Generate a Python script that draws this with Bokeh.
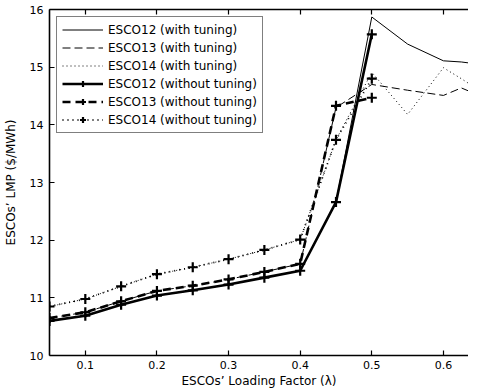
from bokeh.plotting import figure
from bokeh.models import Range1d, FixedTicker, LinearAxis, Legend, LegendItem, CustomJSTickFormatter
from bokeh.embed import file_html
from bokeh.resources import INLINE

# ---- data ----
x_wo = [0.05, 0.10, 0.15, 0.20, 0.25, 0.30, 0.35, 0.40, 0.45, 0.50]
esco12_wo = [10.60, 10.69, 10.88, 11.04, 11.13, 11.23, 11.35, 11.47, 12.66, 15.57]
esco13_wo = [10.65, 10.75, 10.94, 11.12, 11.21, 11.32, 11.45, 11.59, 14.33, 14.47]
esco14_wo = [10.85, 10.98, 11.20, 11.41, 11.53, 11.67, 11.83, 12.01, 13.74, 14.80]

x_w = [0.05, 0.10, 0.15, 0.20, 0.25, 0.30, 0.35, 0.40, 0.45, 0.50, 0.55, 0.60, 0.625, 0.65]
esco12_w = [10.60, 10.69, 10.88, 11.04, 11.13, 11.23, 11.35, 11.47, 12.66, 15.87, 15.40, 15.11, 15.09, 15.05]
esco13_w = [10.65, 10.75, 10.94, 11.12, 11.21, 11.32, 11.45, 11.59, 14.30, 14.70, 14.60, 14.51, 14.64, 14.51]
esco14_w = [10.85, 10.98, 11.20, 11.41, 11.53, 11.67, 11.83, 12.01, 13.74, 14.91, 14.18, 14.99, 14.80, 14.60]

x_ticks = [0.1, 0.2, 0.3, 0.4, 0.5, 0.6]
y_ticks = [10, 11, 12, 13, 14, 15, 16]

FONT = "DejaVu Sans"
FS = "11px"
FS_LAB = "12px"

p = figure(width=468, height=390, output_backend="svg", toolbar_location=None,
           x_range=Range1d(0.05, 0.635), y_range=Range1d(10, 16),
           min_border_left=41, min_border_right=0, min_border_top=9, min_border_bottom=0,
           x_axis_label="ESCOs\u2019 Loading Factor (\u03bb)",
           y_axis_label="ESCOs\u2019 LMP ($/MWh)")
p.outline_line_color = None
p.grid.visible = False
p.background_fill_color = "white"
p.border_fill_color = "white"

for ax in [p.xaxis[0], p.yaxis[0]]:
    ax.axis_line_width = 1.6
    ax.axis_line_color = "black"
    ax.major_tick_in = 5
    ax.major_tick_out = 0
    ax.minor_tick_in = 0
    ax.minor_tick_out = 0
    ax.major_tick_line_width = 1.2
    ax.major_label_text_font = FONT
    ax.major_label_text_font_size = FS
    ax.major_label_text_color = "black"
    ax.axis_label_text_font = FONT
    ax.axis_label_text_font_size = FS_LAB
    ax.axis_label_text_font_style = "normal"
    ax.axis_label_text_color = "black"
p.xaxis[0].ticker = FixedTicker(ticks=x_ticks)
p.yaxis[0].ticker = FixedTicker(ticks=y_ticks)
p.xaxis[0].major_label_standoff = 5
p.xaxis[0].axis_label_standoff = 2
p.yaxis[0].major_label_standoff = 6
p.yaxis[0].axis_label_standoff = 9

top = LinearAxis(ticker=FixedTicker(ticks=x_ticks),
                 formatter=CustomJSTickFormatter(code="return ''"),
                 axis_line_width=1.6, major_tick_in=5, major_tick_out=0,
                 minor_tick_in=0, minor_tick_out=0, major_tick_line_width=1.2,
                 major_label_standoff=0, major_label_text_font_size="1px")
p.add_layout(top, "above")

# with tuning (thin)
l12w = p.line(x_w, esco12_w, line_color="black", line_width=1)
l13w = p.line(x_w, esco13_w, line_color="black", line_width=1, line_dash="8 4")
l14w = p.line(x_w, esco14_w, line_color="black", line_width=1, line_dash="1 3")

# without tuning (thick, with + markers)
l12 = p.line(x_wo, esco12_wo, line_color="black", line_width=2.6)
m12 = p.scatter(x_wo, esco12_wo, marker="cross", size=10, line_color="black", line_width=2.2)
l13 = p.line(x_wo, esco13_wo, line_color="black", line_width=2.6, line_dash="8 5")
m13 = p.scatter(x_wo, esco13_wo, marker="cross", size=10, line_color="black", line_width=2.2)
l14 = p.line(x_wo, esco14_wo, line_color="black", line_width=1.8, line_dash="1 4")
m14 = p.scatter(x_wo, esco14_wo, marker="cross", size=10, line_color="black", line_width=2.2)

legend = Legend(items=[
    LegendItem(label="ESCO12 (with tuning)", renderers=[l12w]),
    LegendItem(label="ESCO13 (with tuning)", renderers=[l13w]),
    LegendItem(label="ESCO14 (with tuning)", renderers=[l14w]),
    LegendItem(label="ESCO12 (without tuning)", renderers=[l12, m12]),
    LegendItem(label="ESCO13 (without tuning)", renderers=[l13, m13]),
    LegendItem(label="ESCO14 (without tuning)", renderers=[l14, m14]),
], location="top_left")
legend.label_text_font = FONT
legend.label_text_font_size = FS_LAB
legend.label_text_color = "black"
legend.glyph_width = 41
legend.glyph_height = 15
legend.label_height = 15
legend.label_standoff = 5
legend.spacing = 3
legend.padding = 5
legend.margin = 7
legend.border_line_color = "black"
legend.border_line_width = 1.2
legend.background_fill_alpha = 1
p.add_layout(legend, "center")

open("out.html", "w").write(file_html(p, INLINE))
